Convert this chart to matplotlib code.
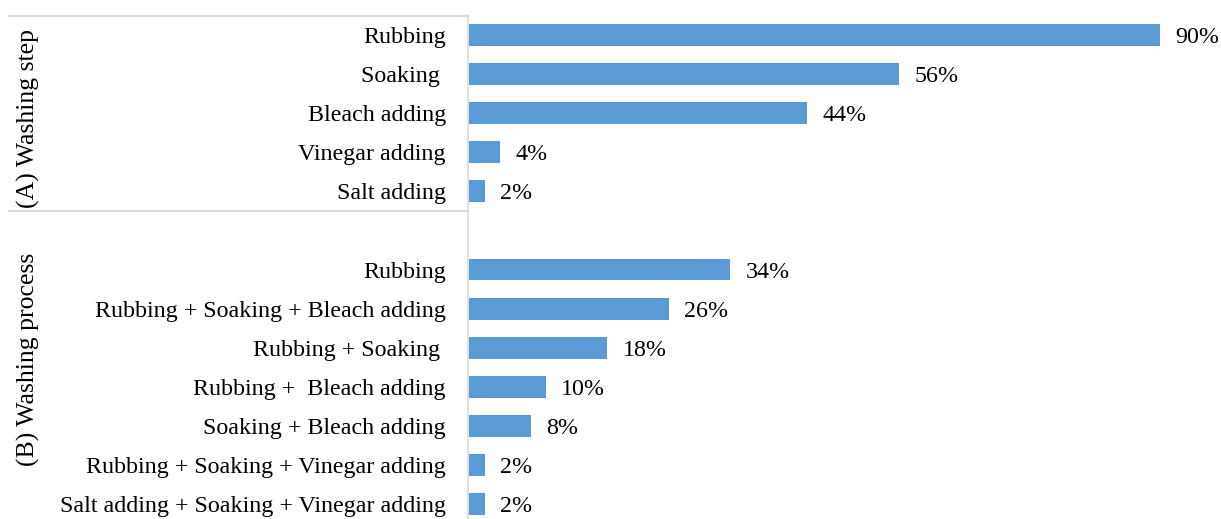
import numpy as np
import matplotlib.pyplot as plt

plt.rcParams['font.family'] = ['Liberation Serif', 'DejaVu Serif']

# Washing step (A) and washing process (B) shares, in percent
step_labels = ['Rubbing', 'Soaking ', 'Bleach adding', 'Vinegar adding', 'Salt adding']
step_values = [90, 56, 44, 4, 2]

process_labels = ['Rubbing', 'Rubbing + Soaking + Bleach adding', 'Rubbing + Soaking ',
                  'Rubbing +  Bleach adding', 'Soaking + Bleach adding',
                  'Rubbing + Soaking + Vinegar adding',
                  'Salt adding + Soaking + Vinegar adding']
process_values = [34, 26, 18, 10, 8, 2, 2]

bar_color = '#5b9bd5'
line_color = '#d9d9d9'
fs = 17.3

W, H = 1221, 519
fig = plt.figure(figsize=(W / 100, H / 100), dpi=100)

# one empty slot between the two groups
labels = step_labels + [''] + process_labels
values = step_values + [np.nan] + process_values
n = len(labels)
pos = np.arange(n)

x0, top, slot = 468, 15.5, 39.08
ax = fig.add_axes([x0 / W, (H - top - slot * n) / H, (W - x0) / W, slot * n / H])
ax.barh(pos, np.nan_to_num(values), height=0.56, color=bar_color, left=0.15)
ax.set_ylim(n - 0.5, -0.5)
ax.set_xlim(0, (W - x0) / 7.68)

for p, v in zip(pos, values):
    if not np.isnan(v):
        ax.text(v + 0.15 + 2.0, p, f'{v:g}%', va='center_baseline', ha='left',
                fontsize=fs)

ax.set_yticks(pos)
ax.set_yticklabels(labels, fontsize=fs, va='center_baseline')
ax.tick_params(axis='y', length=0, pad=16)
ax.set_xticks([])
for s in ['top', 'right', 'bottom']:
    ax.spines[s].set_visible(False)
ax.spines['left'].set_color(line_color)
ax.spines['left'].set_linewidth(1.2)

# group separators and group titles
for y in (16, 211):
    fig.add_artist(plt.Line2D([9 / W, x0 / W], [1 - y / H, 1 - y / H],
                              color=line_color, lw=1.5))
fig.text(28 / W, 1 - 119 / H, '(A) Washing step', rotation=90,
         ha='center', va='center', fontsize=18.5)
fig.text(28 / W, 1 - 359 / H, '(B) Washing process', rotation=90,
         ha='center', va='center', fontsize=18.5)

fig.savefig('out.png', dpi=100)
